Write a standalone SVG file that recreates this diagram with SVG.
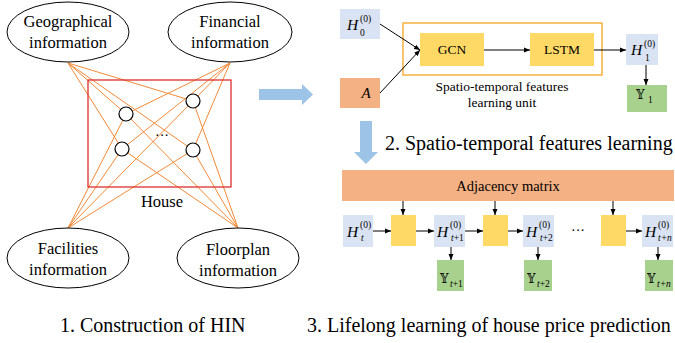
<svg xmlns="http://www.w3.org/2000/svg" width="675" height="343" viewBox="0 0 675 343" font-family="'Liberation Serif', 'Times New Roman', serif">
<style>
text{font-family:'Liberation Serif','Times New Roman',serif;fill:#000}
.el{font-size:16.5px;text-anchor:middle}
.m{font-size:13.5px;text-anchor:middle}
.cap{font-size:20px}
.i{font-style:italic}
.H{font-size:15.5px;font-style:italic}
.s{font-size:9.5px}
text.y{font-family:'DejaVu Serif','DejaVu Sans',serif;font-size:12px}
.ell{fill:#fff;stroke:#000;stroke-width:1}
.hl{stroke:#f28a38;stroke-width:1;fill:none}
.circ{fill:#fff;stroke:#000;stroke-width:1.2}
.hb{fill:#dae3f3}
.yb{fill:#ffd966}
.gb{fill:#a9d18e}
.ab{fill:#f4b183}
.ar{stroke:#000;stroke-width:1;fill:none;marker-end:url(#ah)}
.big{fill:#9dc3e6}
</style>
<defs>
<marker id="ah" markerWidth="6" markerHeight="6" refX="6" refY="3" orient="auto" markerUnits="userSpaceOnUse"><path d="M0,0.5 L6,3 L0,5.5 z" fill="#000"/></marker>
</defs>

<g id="hin-links">
<line class="hl" x1="68" y1="63" x2="126" y2="114"/>
<line class="hl" x1="68" y1="63" x2="193" y2="101"/>
<line class="hl" x1="68" y1="63" x2="122" y2="149"/>
<line class="hl" x1="68" y1="63" x2="193" y2="150"/>
<line class="hl" x1="230" y1="63" x2="126" y2="114"/>
<line class="hl" x1="230" y1="63" x2="193" y2="101"/>
<line class="hl" x1="230" y1="63" x2="122" y2="149"/>
<line class="hl" x1="230" y1="63" x2="193" y2="150"/>
<line class="hl" x1="68" y1="228" x2="126" y2="114"/>
<line class="hl" x1="68" y1="228" x2="193" y2="101"/>
<line class="hl" x1="68" y1="228" x2="122" y2="149"/>
<line class="hl" x1="68" y1="228" x2="193" y2="150"/>
<line class="hl" x1="238" y1="228" x2="126" y2="114"/>
<line class="hl" x1="238" y1="228" x2="193" y2="101"/>
<line class="hl" x1="238" y1="228" x2="122" y2="149"/>
<line class="hl" x1="238" y1="228" x2="193" y2="150"/>
</g>

<g id="house">
<rect x="88" y="80" width="143" height="107" fill="none" stroke="#dc2f2f" stroke-width="1.3"/>
<circle class="circ" cx="126" cy="114" r="7"/>
<circle class="circ" cx="193" cy="101" r="7"/>
<circle class="circ" cx="122" cy="149" r="7"/>
<circle class="circ" cx="193" cy="150" r="7"/>
<text x="162" y="140" font-size="14" text-anchor="middle">···</text>
<text class="el" x="162" y="207">House</text>
</g>

<g id="geo">
<ellipse class="ell" cx="68" cy="32" rx="61" ry="30"/>
<text class="el" x="68" y="27">Geographical</text>
<text class="el" x="68" y="48">information</text>
</g>
<g id="fin">
<ellipse class="ell" cx="230" cy="32" rx="62" ry="30"/>
<text class="el" x="230" y="27">Financial</text>
<text class="el" x="230" y="48">information</text>
</g>
<g id="fac">
<ellipse class="ell" cx="68" cy="258" rx="61" ry="30"/>
<text class="el" x="68" y="254">Facilities</text>
<text class="el" x="68" y="275">information</text>
</g>
<g id="flo">
<ellipse class="ell" cx="238" cy="258" rx="61" ry="30"/>
<text class="el" x="238" y="255">Floorplan</text>
<text class="el" x="238" y="276">information</text>
</g>

<g id="big-arrows">
<polygon class="big" points="259,89 302,89 302,84 313,94.5 302,105 302,100 259,100"/>
<polygon class="big" points="360,121 372,121 372,152 378,152 366,164 354,152 360,152"/>
</g>

<g id="unit">
<rect x="403" y="23" width="199" height="52" fill="#fff" stroke="#f5a623" stroke-width="1.3"/>
<text class="m" x="502" y="91">Spatio-temporal features</text>
<text class="m" x="502" y="107">learning unit</text>
</g>
<g id="h0">
<rect class="hb" x="340" y="9" width="40" height="30"/>
<text class="H" x="347" y="30">H</text>
<text class="s" x="360" y="22">(0)</text>
<text class="s" x="360" y="36">0</text>
</g>
<g id="a">
<rect class="ab" x="340" y="78" width="40" height="30"/>
<text class="i" x="366" y="98" font-size="15" text-anchor="middle">A</text>
</g>
<g id="gcn">
<rect class="yb" x="420" y="33" width="64" height="33"/>
<text class="m" x="452" y="54">GCN</text>
</g>
<g id="lstm">
<rect class="yb" x="530" y="33" width="64" height="33"/>
<text class="m" x="562" y="54">LSTM</text>
</g>
<g id="h1">
<rect class="hb" x="626" y="34" width="32" height="31"/>
<text class="H" x="631" y="55">H</text>
<text class="s" x="644" y="47">(0)</text>
<text class="s" x="645" y="61">1</text>
</g>
<g id="y1">
<rect class="gb" x="627" y="85" width="40" height="27"/>
<text class="y" x="636" y="99">𝕐</text>
<text class="s" x="648" y="103">1</text>
</g>

<g id="title2">
<text class="cap" x="385" y="150">2. Spatio-temporal features learning</text>
</g>

<g id="adj">
<rect class="ab" x="342" y="170" width="332" height="31"/>
<text x="508" y="191" font-size="14.5" text-anchor="middle">Adjacency matrix</text>
</g>

<g id="ht">
<rect class="hb" x="343" y="215" width="30" height="32"/>
<text class="H" x="347" y="237">H</text>
<text class="s" x="360" y="228">(0)</text>
<text class="s i" x="361" y="241">t</text>
</g>
<g id="u1"><rect class="yb" x="391" y="215" width="25" height="31"/></g>
<g id="ht1">
<rect class="hb" x="434" y="215" width="31" height="32"/>
<text class="H" x="437" y="237">H</text>
<text class="s" x="450" y="228">(0)</text>
<text class="s" x="451" y="241"><tspan class="i">t</tspan>+1</text>
</g>
<g id="u2"><rect class="yb" x="483" y="215" width="25" height="31"/></g>
<g id="ht2">
<rect class="hb" x="523" y="215" width="31" height="32"/>
<text class="H" x="526" y="237">H</text>
<text class="s" x="539" y="228">(0)</text>
<text class="s" x="540" y="241"><tspan class="i">t</tspan>+2</text>
</g>
<text x="578" y="235" font-size="14" text-anchor="middle">···</text>
<g id="u3"><rect class="yb" x="601" y="215" width="25" height="31"/></g>
<g id="htn">
<rect class="hb" x="642" y="215" width="31" height="32"/>
<text class="H" x="645" y="237">H</text>
<text class="s" x="658" y="228">(0)</text>
<text class="s i" x="658" y="241">t+n</text>
</g>
<g id="yt1">
<rect class="gb" x="437" y="260" width="27" height="31"/>
<text class="y" x="440" y="283">𝕐</text>
<text class="s" x="450" y="287"><tspan class="i">t</tspan>+1</text>
</g>
<g id="yt2">
<rect class="gb" x="524" y="260" width="28" height="31"/>
<text class="y" x="527" y="283">𝕐</text>
<text class="s" x="537" y="287"><tspan class="i">t</tspan>+2</text>
</g>
<g id="ytn">
<rect class="gb" x="645" y="260" width="28" height="31"/>
<text class="y" x="647" y="283">𝕐</text>
<text class="s i" x="657" y="287">t+n</text>
</g>

<g id="connectors">
<line class="ar" x1="380" y1="24" x2="420" y2="50"/>
<line class="ar" x1="380" y1="93" x2="420" y2="50"/>
<line class="ar" x1="484" y1="50" x2="530" y2="50"/>
<line class="ar" x1="594" y1="50" x2="626" y2="50"/>
<line class="ar" x1="646" y1="65" x2="646" y2="85"/>
<line class="ar" x1="403" y1="201" x2="403" y2="215"/>
<line class="ar" x1="495" y1="201" x2="495" y2="215"/>
<line class="ar" x1="613" y1="201" x2="613" y2="215"/>
<line class="ar" x1="373" y1="231" x2="391" y2="231"/>
<line class="ar" x1="416" y1="231" x2="434" y2="231"/>
<line class="ar" x1="465" y1="231" x2="483" y2="231"/>
<line class="ar" x1="508" y1="231" x2="523" y2="231"/>
<line class="ar" x1="626" y1="231" x2="642" y2="231"/>
<line class="ar" x1="451" y1="247" x2="451" y2="260"/>
<line class="ar" x1="538" y1="247" x2="538" y2="260"/>
<line class="ar" x1="658" y1="247" x2="658" y2="260"/>
</g>

<g id="captions">
<text class="cap" x="60" y="332">1. Construction of HIN</text>
<text class="cap" x="307" y="332">3. Lifelong learning of house price prediction</text>
</g>
</svg>
